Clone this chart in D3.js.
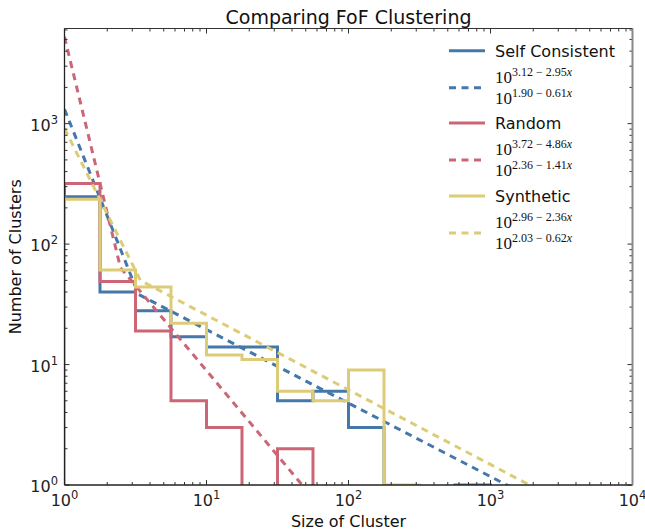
<!DOCTYPE html>
<html><head><meta charset="utf-8">
<script src="https://cdn.jsdelivr.net/npm/d3@7"></script>
<style>body{margin:0;background:#fff}svg{display:block}</style>
</head><body>
<svg id="chart" width="645" height="531"></svg>
<script>
// ---- data ----
const binEdges = [1, 1.778, 3.162, 5.623, 10, 17.78, 31.62, 56.23, 100, 177.8, 316.2, 562.3, 1000, 1778];
const selfConsistent = [247, 40, 28, 17, 14, 14, 5, 6, 3, 0, 0, 1, 0];
const random =         [319, 49, 19, 5, 3, 0, 2, 0, 0, 0, 0, 0, 0];
const synthetic =      [236, 61, 44, 22, 12, 11, 6, 5, 9, 1, 0, 0, 0];
const seriesNames = ["Self Consistent", "Random", "Synthetic"];
const seriesColors = ["#4477AA", "#CC6677", "#DDCC77"];
// power-law fits: N = 10^(a - b*log10(size)), steep and shallow parts
const fitSteepA = [3.12, 3.72, 2.96];
const fitSteepB = [2.95, 4.86, 2.36];
const fitShallowA = [1.90, 2.36, 2.03];
const fitShallowB = [0.61, 1.41, 0.62];
const xTickExps = [0, 1, 2, 3, 4];
const yTickExps = [0, 1, 2, 3];

const svg = d3.select("#chart");
const L = 64.5, R = 632.5, T = 28.5, B = 485;
const x = d3.scaleLog().domain([1, 1e4]).range([L, R]);
const y = d3.scaleLog().domain([1, Math.pow(10, 3.79)]).range([B, T]);
const sans = "DejaVu Sans, sans-serif";
const serif = "Liberation Serif, DejaVu Serif, serif";
const dash = "7,5.5";

svg.append("defs").append("clipPath").attr("id", "clip")
  .append("rect").attr("x", L).attr("y", T).attr("width", R - L).attr("height", B - T);

const plot = svg.append("g").attr("clip-path", "url(#clip)");
const floorV = 0.01;
const allSeries = [selfConsistent, random, synthetic];

allSeries.forEach((counts, i) => {
  const pts = [[binEdges[0], floorV]];
  counts.forEach((c, k) => {
    const v = Math.max(c, floorV);
    pts.push([binEdges[k], v]);
    pts.push([binEdges[k + 1], v]);
  });
  pts.push([binEdges[binEdges.length - 1], floorV]);
  plot.append("path")
    .attr("d", d3.line().x(d => x(d[0])).y(d => y(d[1]))(pts))
    .attr("fill", "none").attr("stroke", seriesColors[i]).attr("stroke-width", 3)
    .attr("stroke-linejoin", "miter");
  // fit line
  const xi = (fitSteepA[i] - fitShallowA[i]) / (fitSteepB[i] - fitShallowB[i]);
  const lx = [0, xi, 4];
  const fpts = lx.map(l => [Math.pow(10, l), Math.pow(10, Math.max(fitSteepA[i] - fitSteepB[i] * l, fitShallowA[i] - fitShallowB[i] * l))]);
  plot.append("path")
    .attr("d", d3.line().x(d => x(d[0])).y(d => y(d[1]))(fpts))
    .attr("fill", "none").attr("stroke", seriesColors[i]).attr("stroke-width", 3)
    .attr("stroke-dasharray", dash);
});

// ---- axes ----
const ax = svg.append("g");
const tickCol = "#333";
const majX = xTickExps.map(e => Math.pow(10, e));
const minX = [];
for (let e = 0; e < 4; e++) for (let m = 2; m <= 9; m++) minX.push(m * Math.pow(10, e));
const majY = yTickExps.map(e => Math.pow(10, e));
const minY = [];
for (let e = 0; e < 4; e++) for (let m = 2; m <= 9; m++) { const v = m * Math.pow(10, e); if (v <= y.domain()[1]) minY.push(v); }

function vt(xv, len) {
  ax.append("line").attr("x1", x(xv)).attr("x2", x(xv)).attr("y1", B).attr("y2", B - len).attr("stroke", tickCol);
  ax.append("line").attr("x1", x(xv)).attr("x2", x(xv)).attr("y1", T).attr("y2", T + len).attr("stroke", tickCol);
}
function ht(yv, len) {
  ax.append("line").attr("y1", y(yv)).attr("y2", y(yv)).attr("x1", L).attr("x2", L + len).attr("stroke", tickCol);
  ax.append("line").attr("y1", y(yv)).attr("y2", y(yv)).attr("x1", R).attr("x2", R - len).attr("stroke", tickCol);
}
majX.forEach(v => vt(v, 5)); minX.forEach(v => vt(v, 3));
majY.forEach(v => ht(v, 5)); minY.forEach(v => ht(v, 3));

// spines
ax.append("line").attr("x1", L).attr("x2", R).attr("y1", B).attr("y2", B).attr("stroke", "#222").attr("stroke-width", 1.3);
ax.append("line").attr("x1", L).attr("x2", R).attr("y1", T).attr("y2", T).attr("stroke", "#333").attr("stroke-width", 1);
ax.append("line").attr("x1", L).attr("x2", L).attr("y1", T).attr("y2", B).attr("stroke", "#222").attr("stroke-width", 1.3);
ax.append("line").attr("x1", R).attr("x2", R).attr("y1", T).attr("y2", B).attr("stroke", "#888").attr("stroke-width", 2);

function powLabel(g, px, py, exp, anchor) {
  const t = g.append("text").attr("x", px).attr("y", py).attr("text-anchor", anchor)
    .attr("font-family", sans).attr("font-size", 16).attr("fill", "#222");
  t.append("tspan").text("10");
  t.append("tspan").attr("dy", -7).attr("font-size", 11.5).text(exp);
}
xTickExps.forEach(e => powLabel(svg, x(Math.pow(10, e)), 506, String(e), "middle"));
yTickExps.forEach(e => powLabel(svg, 58, y(Math.pow(10, e)) + 7, String(e), "end"));

// labels
svg.append("text").attr("x", (L + R) / 2).attr("y", 24).attr("text-anchor", "middle")
  .attr("font-family", sans).attr("font-size", 19).attr("fill", "#111").text("Comparing FoF Clustering");
svg.append("text").attr("x", (L + R) / 2).attr("y", 527).attr("text-anchor", "middle")
  .attr("font-family", sans).attr("font-size", 16).attr("fill", "#111").text("Size of Cluster");
svg.append("text").attr("transform", `translate(21,${(T + B) / 2}) rotate(-90)`).attr("text-anchor", "middle")
  .attr("font-family", sans).attr("font-size", 16).attr("fill", "#111").text("Number of Clusters");

// legend
const leg = svg.append("g");
const solidY = [50.7, 123, 196];
function fmt(a, b) { return [a.toFixed(2), b.toFixed(2)]; }
function mathLabel(px, py, a, b) {
  const t = leg.append("text").attr("x", px).attr("y", py).attr("font-family", serif).attr("font-size", 17).attr("fill", "#111");
  t.append("tspan").text("10");
  const s = fmt(a, b);
  t.append("tspan").attr("dy", -7).attr("font-size", 12).text(s[0] + " \u2212 " + s[1]);
  t.append("tspan").attr("font-size", 12).attr("font-style", "italic").text("x");
}
seriesNames.forEach((name, i) => {
  const sy = solidY[i];
  const dy = sy + 37;
  leg.append("line").attr("x1", 449).attr("x2", 485).attr("y1", sy).attr("y2", sy)
    .attr("stroke", seriesColors[i]).attr("stroke-width", 3);
  leg.append("text").attr("x", 495).attr("y", sy + 6).attr("font-family", sans).attr("font-size", 16)
    .attr("fill", "#111").text(name);
  leg.append("line").attr("x1", 449).attr("x2", 485).attr("y1", dy).attr("y2", dy)
    .attr("stroke", seriesColors[i]).attr("stroke-width", 3).attr("stroke-dasharray", dash);
  mathLabel(495, dy - 5, fitSteepA[i], fitSteepB[i]);
  mathLabel(495, dy + 16, fitShallowA[i], fitShallowB[i]);
});
</script>
</body></html>
